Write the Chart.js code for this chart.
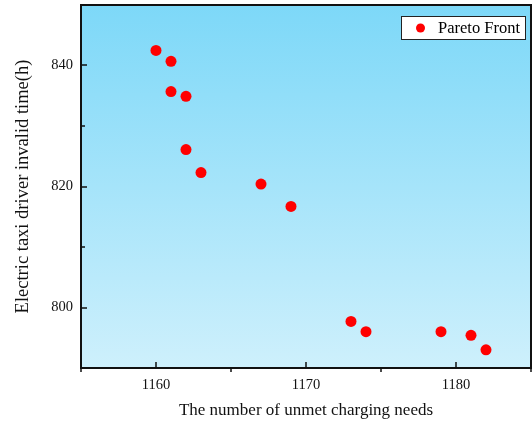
<!DOCTYPE html>
<html>
<head>
<meta charset="utf-8">
<script src="https://cdn.jsdelivr.net/npm/chart.js@4/dist/chart.umd.min.js"></script>
<style>
html,body{margin:0;padding:0;background:#fff;}
#wrap{width:532px;height:423px;position:relative;}
</style>
</head>
<body>
<div id="wrap"><canvas id="c" width="532" height="423"></canvas></div>
<script>
const unmetNeeds = [1160, 1161, 1161, 1162, 1162, 1163, 1167, 1169, 1173, 1174, 1179, 1181, 1182];
const invalidTime = [842.5, 840.7, 835.7, 834.9, 826.1, 822.3, 820.4, 816.7, 797.7, 796.0, 796.0, 795.4, 793.0];
const xMajorTicks = [1160, 1170, 1180];
const xMinorTicks = [1155, 1165, 1175, 1185];
const yMajorTicks = [800, 820, 840];
const yMinorTicks = [790, 810, 830, 850];
const seriesName = 'Pareto Front';
const xTitle = 'The number of unmet charging needs';
const yTitle = 'Electric taxi driver invalid time(h)';

const FONT = "'Liberation Serif', 'Times New Roman', serif";

const bgPlugin = {
  id: 'bg',
  beforeDraw(chart) {
    const {ctx, chartArea: a} = chart;
    const g = ctx.createLinearGradient(0, a.top, 0, a.bottom);
    g.addColorStop(0, 'rgb(125,216,248)');
    g.addColorStop(1, 'rgb(206,240,252)');
    ctx.save();
    ctx.fillStyle = g;
    ctx.fillRect(a.left, a.top, a.right - a.left, a.bottom - a.top);
    ctx.restore();
  },
  afterDraw(chart) {
    const {ctx, chartArea: a, scales} = chart;
    ctx.save();
    ctx.strokeStyle = '#111';
    ctx.lineWidth = 2;
    ctx.strokeRect(a.left, a.top, a.right - a.left, a.bottom - a.top);
    ctx.lineWidth = 1.5;
    ctx.beginPath();
    xMajorTicks.forEach(v => {
      const x = Math.round(scales.x.getPixelForValue(v));
      ctx.moveTo(x, a.bottom); ctx.lineTo(x, a.bottom - 6);
    });
    xMinorTicks.forEach(v => {
      const x = Math.round(scales.x.getPixelForValue(v));
      ctx.moveTo(x, a.bottom); ctx.lineTo(x, a.bottom + 4);
    });
    yMajorTicks.forEach(v => {
      const y = Math.round(scales.y.getPixelForValue(v));
      ctx.moveTo(a.left, y); ctx.lineTo(a.left + 6, y);
    });
    yMinorTicks.forEach(v => {
      const y = Math.round(scales.y.getPixelForValue(v));
      ctx.moveTo(a.left, y); ctx.lineTo(a.left + 4, y);
    });
    ctx.stroke();

    // legend
    const lx = a.right - 130, ly = a.top + 11, lw = 124, lh = 23;
    ctx.fillStyle = '#fff';
    ctx.fillRect(lx, ly, lw, lh);
    ctx.strokeStyle = '#222';
    ctx.lineWidth = 1;
    ctx.strokeRect(lx + 0.5, ly + 0.5, lw, lh);
    ctx.fillStyle = '#ff0000';
    ctx.beginPath();
    ctx.arc(lx + 19.5, ly + 12, 4.5, 0, Math.PI * 2);
    ctx.fill();
    ctx.fillStyle = '#000';
    ctx.font = '16.5px ' + FONT;
    ctx.textBaseline = 'middle';
    ctx.textAlign = 'left';
    ctx.fillText(chart.data.datasets[0].label, lx + 37, ly + 12.5);
    ctx.restore();
  }
};

new Chart(document.getElementById('c'), {
  type: 'scatter',
  data: {
    datasets: [{
      label: seriesName,
      data: unmetNeeds.map((x, i) => ({x, y: invalidTime[i]})),
      backgroundColor: '#ff0000',
      borderColor: '#ff0000',
      pointRadius: 5.5,
      pointHoverRadius: 5.5,
      borderWidth: 0
    }]
  },
  options: {
    responsive: false,
    animation: false,
    events: [],
    layout: {autoPadding: false, padding: {top: 5, right: 1, left: 0, bottom: 0}},
    plugins: {legend: {display: false}, tooltip: {enabled: false}},
    scales: {
      x: {
        type: 'linear', min: 1155, max: 1185,
        afterBuildTicks(s) { s.ticks = xMajorTicks.map(v => ({value: v})); },
        afterFit(s) { s.height = 55; s.paddingLeft = 0; s.paddingRight = 0; },
        grid: {display: false, drawTicks: false},
        border: {display: false},
        ticks: {color: '#111', font: {family: FONT, size: 14.5}, padding: 8, callback: v => String(v)},
        title: {display: true, text: xTitle, color: '#111', font: {family: FONT, size: 17}, padding: {top: 4, bottom: 2}}
      },
      y: {
        type: 'linear', min: 790, max: 850,
        afterBuildTicks(s) { s.ticks = yMajorTicks.map(v => ({value: v})); },
        afterFit(s) { s.width = 81; s.paddingTop = 0; s.paddingBottom = 0; },
        grid: {display: false, drawTicks: false},
        border: {display: false},
        ticks: {color: '#111', font: {family: FONT, size: 14.5}, padding: 8, callback: v => String(v)},
        title: {display: true, text: yTitle, color: '#111', font: {family: FONT, size: 18.5}, padding: {top: 12, bottom: 4}}
      }
    }
  },
  plugins: [bgPlugin]
});
</script>
</body>
</html>
